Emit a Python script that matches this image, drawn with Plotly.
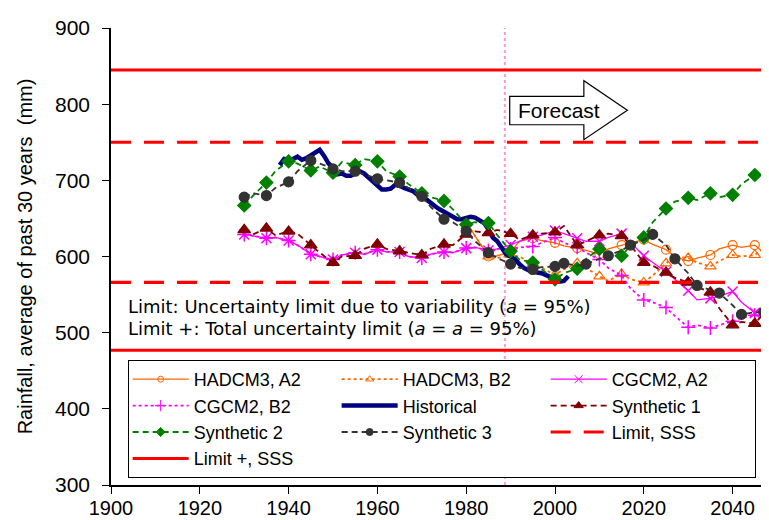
import plotly.graph_objects as go

# ---------------- data ----------------
HIST_YEARS = list(range(1938, 2004))
HIST_VALUES = [720, 728, 727, 728, 731, 727, 729, 733, 737, 740,
               732, 722, 717, 708, 709, 706, 706, 709, 712, 709,
               704, 699, 694, 688, 688, 689, 694, 693, 690, 688,
               686, 681, 677, 675, 670, 666, 662, 659, 656, 653,
               649, 649, 651, 652, 651, 648, 644, 636, 625, 620,
               611, 603, 600, 596, 590, 585, 582, 580, 579, 578,
               576, 573, 570, 567, 568, 574]

SIM_YEARS = [1930, 1932, 1935, 1937, 1940, 1942, 1945, 1947, 1950, 1952,
             1955, 1957, 1960, 1962, 1965, 1967, 1970, 1972, 1975, 1977,
             1980, 1982, 1985, 1987, 1990, 1992, 1995, 1997, 2000, 2002,
             2005, 2007, 2010, 2012, 2015, 2017, 2020, 2022, 2025, 2027,
             2030, 2032, 2035, 2037, 2040, 2042, 2045, 2047, 2050]

SYN1_VALUES = [635, 629, 637, 628, 633, 630, 615, 605, 592, 600,
               601, 610, 616, 610, 607, 605, 602, 610, 616, 615,
               629, 633, 631, 635, 630, 622, 628, 630, 632, 640,
               615, 620, 628, 630, 627, 615, 592, 588, 579, 572,
               566, 560, 553, 532, 510, 514, 512, 525, 536]

SYN2_VALUES = [667, 680, 697, 712, 725, 722, 713, 718, 710, 724,
               720, 728, 725, 712, 705, 695, 683, 678, 673, 662,
               642, 645, 644, 628, 607, 596, 592, 583, 570, 578,
               584, 597, 610, 605, 601, 614, 625, 645, 663, 672,
               677, 674, 683, 678, 681, 695, 707, 703, 699]

SYN3_VALUES = [678, 683, 680, 690, 698, 712, 726, 722, 715, 712,
               712, 708, 702, 700, 697, 690, 679, 665, 649, 645,
               633, 620, 605, 598, 590, 585, 583, 586, 587, 591,
               588, 590, 597, 601, 608, 615, 622, 629, 615, 597,
               578, 562, 556, 552, 536, 524, 527, 527, 533]

CGCM_A2_VALUES = [629, 627, 624, 625, 621, 615, 603, 600, 596, 602,
                  605, 603, 609, 606, 606, 600, 598, 603, 606, 605,
                  611, 612, 608, 610, 615, 620, 626, 628, 634, 630,
                  624, 620, 620, 625, 630, 618, 601, 592, 580, 570,
                  555, 543, 545, 548, 554, 540, 526, 528, 528]

CGCM_B2_VALUES = [629, 627, 624, 625, 621, 615, 603, 600, 596, 602,
                  605, 603, 609, 606, 606, 600, 598, 603, 606, 605,
                  611, 612, 608, 610, 610, 612, 613, 618, 625, 618,
                  612, 605, 596, 585, 575, 558, 543, 540, 533, 522,
                  507, 510, 506, 510, 515, 520, 523, 520, 520]

HAD_YEARS = [1981, 1983, 1985, 1987, 1990, 1992, 1995, 1997, 2000, 2002,
             2005, 2007, 2010, 2012, 2015, 2017, 2020, 2022, 2025, 2027,
             2030, 2032, 2035, 2037, 2040, 2042, 2045, 2047, 2050]
HAD_A2_VALUES = [636, 618, 600, 601, 606, 620, 624, 621, 618, 614,
                 611, 608, 603, 610, 615, 618, 622, 616, 609, 600,
                 594, 598, 602, 610, 615, 612, 615, 605, 585]
HAD_B2_VALUES = [636, 618, 600, 598, 602, 600, 590, 585, 576, 583,
                 591, 585, 574, 568, 577, 570, 566, 575, 591, 600,
                 598, 592, 587, 594, 602, 600, 602, 610, 613]

MARK_5Y = list(range(1930, 2051, 5))
MARK_SYN3 = list(range(1930, 2001, 5)) + list(range(2002, 2050, 5))

LIMIT_SSS = [750, 566]        # uncertainty limit due to variability
LIMIT_PLUS_SSS = [845, 477]   # total uncertainty limit
X_SPAN = [1900, 2050]
FORECAST_START = 1988.7

X_TICKS = list(range(1900, 2041, 20))
Y_TICKS = list(range(300, 901, 100))

# ---------------- figure ----------------
fig = go.Figure()
ARIAL = "Arial, Liberation Sans, sans-serif"


def add_series(name, years, values, color, dash, width, symbol, size,
               mark_years, mline=1.2, mcolor=None, leg_size=None):
    grp = name
    fig.add_trace(go.Scatter(x=years, y=values, mode="lines", legendgroup=grp,
                             showlegend=False, hoverinfo="skip",
                             line=dict(color=color, dash=dash, width=width)))
    if symbol is not None:
        mx = [y for y in years if y in mark_years]
        my = [v for y, v in zip(years, values) if y in mark_years]
        fig.add_trace(go.Scatter(x=mx, y=my, mode="markers", legendgroup=grp,
                                 showlegend=False,
                                 marker=dict(symbol=symbol, size=size,
                                             color=mcolor or color,
                                             line=dict(color=color, width=mline))))
    fig.add_trace(go.Scatter(x=[None], y=[None], name=name, legendgroup=grp,
                             mode="lines+markers" if symbol else "lines",
                             line=dict(color=color, dash=dash, width=width),
                             marker=dict(symbol=symbol or "circle",
                                         size=leg_size or max(size - 3, 5),
                                         color=mcolor or color,
                                         line=dict(color=color, width=1))))


ORANGE = "#FF6600"
MAGENTA = "#FF00FF"
add_series("HADCM3, A2", HAD_YEARS, HAD_A2_VALUES, ORANGE, "solid", 1.3,
           "circle-open", 9, MARK_5Y, leg_size=6)
add_series("HADCM3, B2", HAD_YEARS, HAD_B2_VALUES, ORANGE, "dot", 1.8,
           "triangle-up-open", 10, MARK_5Y, leg_size=7)
add_series("CGCM2, A2", SIM_YEARS, CGCM_A2_VALUES, MAGENTA, "solid", 1.3,
           "x-thin-open", 10, MARK_5Y, mline=1.5, leg_size=8)
add_series("CGCM2, B2", SIM_YEARS, CGCM_B2_VALUES, MAGENTA, "dot", 1.8,
           "cross-thin-open", 10, MARK_5Y, mline=1.5, leg_size=8)
add_series("Historical", HIST_YEARS, HIST_VALUES, "#000080", "solid", 4.5,
           None, 0, [])
add_series("Synthetic 1", SIM_YEARS, SYN1_VALUES, "#800000", "6px,4px", 1.8,
           "triangle-up", 11, MARK_5Y, leg_size=8)
add_series("Synthetic 2", SIM_YEARS, SYN2_VALUES, "#008000", "6px,4px", 1.8,
           "diamond", 10, MARK_5Y, leg_size=7)
add_series("Synthetic 3", SIM_YEARS, SYN3_VALUES, "#333333", "6px,4px", 1.8,
           "circle", 10, MARK_SYN3, leg_size=7)


def limit_xy(levels):
    xs, ys = [], []
    for lv in levels:
        xs += X_SPAN + [None]
        ys += [lv, lv, None]
    return xs, ys


lx, ly = limit_xy(LIMIT_SSS)
fig.add_trace(go.Scatter(x=lx, y=ly, mode="lines", name="Limit, SSS",
                         line=dict(color="#FF0000", width=3.2, dash="20px,13px")))
lx, ly = limit_xy(LIMIT_PLUS_SSS)
fig.add_trace(go.Scatter(x=lx, y=ly, mode="lines", name="Limit +, SSS",
                         line=dict(color="#FF0000", width=3)))

# forecast start marker line
fig.add_shape(type="line", xref="x", yref="paper", x0=FORECAST_START, x1=FORECAST_START,
              y0=0, y1=1, line=dict(color="#FF99CC", width=2, dash="dot"), layer="below")

# Forecast arrow
fig.add_shape(type="path", xref="x", yref="y",
              path="M 1989.8,810.3 L 2006.5,810.3 L 2006.5,830.8 L 2016.3,792 "
                   "L 2006.5,753.4 L 2006.5,773 L 1989.8,773 Z",
              fillcolor="white", line=dict(color="black", width=1.2))
fig.add_annotation(x=2000.8, y=792, xref="x", yref="y", text="Forecast",
                   showarrow=False, font=dict(family=ARIAL, size=21, color="black"))

TXT_FONT = dict(family="DejaVu Sans, Verdana, sans-serif", size=18, color="black")
fig.add_annotation(x=0.022, y=0.3895, xref="paper", yref="paper", xanchor="left",
                   yanchor="middle", showarrow=False, font=TXT_FONT,
                   text="Limit: Uncertainty limit due to variability (<i>a</i> = 95%)")
fig.add_annotation(x=0.022, y=0.342, xref="paper", yref="paper", xanchor="left",
                   yanchor="middle", showarrow=False, font=TXT_FONT,
                   text="Limit +: Total uncertainty limit (<i>a</i> = <i>a</i> = 95%)")

axis_common = dict(showline=True, linecolor="black", linewidth=1.5, ticks="outside",
                   ticklen=7, tickcolor="black", showgrid=False, zeroline=False)
fig.update_xaxes(range=X_SPAN, tickvals=X_TICKS, ticklabelstandoff=-3,
                 tickfont=dict(family=ARIAL, size=20, color="black"), **axis_common)
fig.update_yaxes(range=[300, 900], tickvals=Y_TICKS, ticklabelstandoff=8,
                 tickfont=dict(family=ARIAL, size=21, color="black"),
                 title=dict(text="Rainfall, average of past 30 years\u00a0 (mm)",
                            font=dict(family=ARIAL, size=20, color="black"), standoff=17),
                 **axis_common)

fig.update_layout(
    width=769, height=520,
    margin=dict(l=103, r=0, t=20, b=43, autoexpand=False),
    paper_bgcolor="white", plot_bgcolor="white",
    font=dict(family=ARIAL, color="black"),
    legend=dict(orientation="h", x=0.025, y=0.2735, xanchor="left", yanchor="top",
                bgcolor="white", bordercolor="black", borderwidth=1,
                font=dict(family=ARIAL, size=18, color="black"),
                entrywidth=138, entrywidthmode="pixels", itemwidth=56,
                tracegroupgap=0),
)

fig.write_html("out.html")
